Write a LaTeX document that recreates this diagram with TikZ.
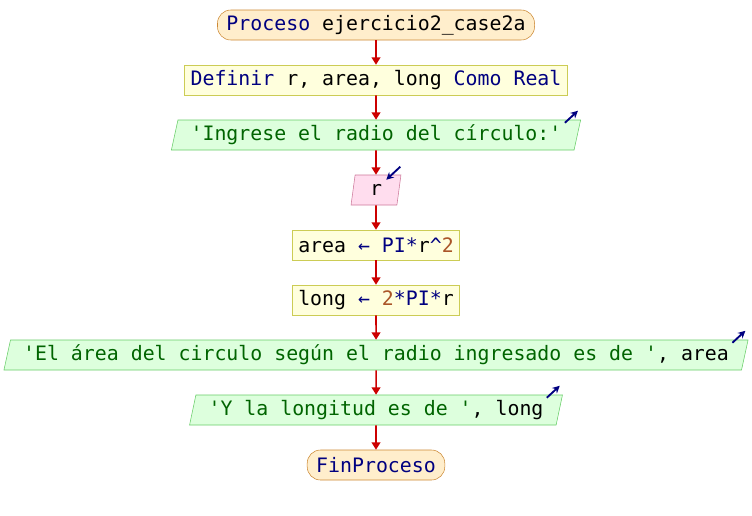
\documentclass[tikz,border=0pt]{standalone}
\usepackage{fontspec}
\setmonofont{DejaVu Sans Mono}
\usetikzlibrary{shapes.geometric,arrows.meta,calc}

\definecolor{kwblue}{RGB}{0,0,128}
\definecolor{strgreen}{RGB}{0,100,0}
\definecolor{numbrown}{RGB}{170,85,40}
\definecolor{flowred}{RGB}{204,0,0}
\newcommand{\kw}[1]{\textcolor{kwblue}{#1}}
\newcommand{\str}[1]{\textcolor{strgreen}{#1}}
\newcommand{\num}[1]{\textcolor{numbrown}{#1}}

\begin{document}
\begin{tikzpicture}[x=0.75pt,y=-0.75pt,font=\ttfamily\fontsize{14.9}{18}\selectfont]
    \tikzstyle{terminal}=[rectangle,rounded corners=10pt,draw={rgb,255:red,204;green,136;blue,51},fill={rgb,255:red,255;green,238;blue,204},minimum height=22.5pt,inner xsep=6.75pt,inner ysep=0pt]
    \tikzstyle{proc}=[rectangle,draw={rgb,255:red,204;green,204;blue,85},fill={rgb,255:red,255;green,255;blue,221},minimum height=22.5pt,inner xsep=4.5pt,inner ysep=0pt]
    \tikzstyle{outp}=[trapezium,trapezium left angle=72,trapezium right angle=108,trapezium stretches=true,draw={rgb,255:red,102;green,204;blue,102},fill={rgb,255:red,221;green,255;blue,221},minimum height=22.5pt,inner xsep=9.5pt,inner ysep=0pt]
    \tikzstyle{inp}=[outp,draw={rgb,255:red,204;green,119;blue,153},fill={rgb,255:red,255;green,221;blue,238},minimum width=37.5pt]
    \tikzstyle{flow}=[draw=flowred,line width=1.2pt,-{Triangle[length=5.5pt,width=6.5pt]}]
    \tikzstyle{io}=[draw=kwblue,line width=1.4pt,-{Stealth[length=5.5pt,width=5.5pt]}]

    \useasboundingbox (0,0) rectangle (752,515);

    \node[terminal] (proceso) at (376,25)  {\kw{Proceso} ejercicio2\_case2a};
    \node[proc]     (definir) at (376,80)  {\kw{Definir} r, area, long \kw{Como Real}};
    \node[outp]     (ingrese) at (376,135) {\str{'Ingrese el radio del círculo:'}};
    \node[inp]      (leer)    at (376,190) {r};
    \node[proc]     (area)    at (376,245) {area \kw{←} \kw{PI}\kw{*}r\kw{\textasciicircum}\num{2}};
    \node[proc]     (long)    at (376,300) {long \kw{←} \num{2}\kw{*}\kw{PI}\kw{*}r};
    \node[outp]     (msgarea) at (376,355) {\str{'El área del circulo según el radio ingresado es de '}, area};
    \node[outp]     (msglong) at (376,410) {\str{'Y la longitud es de '}, long};
    \node[terminal] (fin)     at (376,465) {\kw{FinProceso}};

    \draw[flow] (proceso) -- (definir);
    \draw[flow] (definir) -- (ingrese);
    \draw[flow] (ingrese) -- (leer);
    \draw[flow] (leer)    -- (area);
    \draw[flow] (area)    -- (long);
    \draw[flow] (long)    -- (msgarea);
    \draw[flow] (msgarea) -- (msglong);
    \draw[flow] (msglong) -- (fin);

    % little arrows for input / output
    \draw[io] ($(ingrese.top right corner)+(-16,3)$) -- ($(ingrese.top right corner)+(-3,-9)$);
    \draw[io] ($(msgarea.top right corner)+(-16,3)$) -- ($(msgarea.top right corner)+(-3,-9)$);
    \draw[io] ($(msglong.top right corner)+(-16,3)$) -- ($(msglong.top right corner)+(-3,-9)$);
    \draw[io] ($(leer.top right corner)+(-1,-8)$)     -- ($(leer.top right corner)+(-15,5)$);

\end{tikzpicture}
\end{document}
